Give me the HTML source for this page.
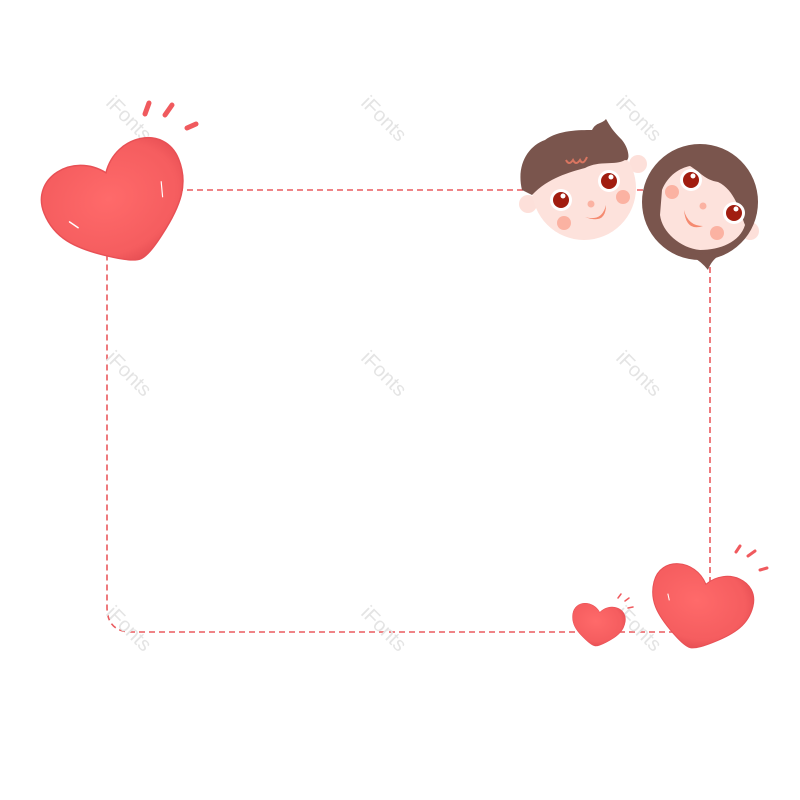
<!DOCTYPE html>
<html><head><style>html,body{margin:0;padding:0;background:#fff;width:800px;height:800px;overflow:hidden}</style></head>
<body>
<svg width="800" height="800" viewBox="0 0 800 800" xmlns="http://www.w3.org/2000/svg">
<defs>
<radialGradient id="hg" cx="0.45" cy="0.4" r="0.65">
<stop offset="0" stop-color="#ff6a6a"/><stop offset="0.75" stop-color="#f55d5f"/><stop offset="1" stop-color="#e24a50"/>
</radialGradient>
<path id="heart" d="M0,40 Q-6,40 -20,30 C-40,16 -50,4 -50,-14 C-50,-40 -16,-46 0,-24 C16,-46 50,-40 50,-14 C50,4 40,16 20,30 Q6,40 0,40 Z"/>
</defs>
<path d="M107,190 H710 V632 H132 Q107,632 107,607 Z" fill="none" stroke="#ea5a5e" stroke-width="1.6" stroke-dasharray="6,4"/>
<g font-family="Liberation Sans, sans-serif" font-size="20" fill="#e4e4e4">
<text transform="translate(105,104) rotate(45)">iFonts</text>
<text transform="translate(360,104) rotate(45)">iFonts</text>
<text transform="translate(615,104) rotate(45)">iFonts</text>
<text transform="translate(105,359) rotate(45)">iFonts</text>
<text transform="translate(360,359) rotate(45)">iFonts</text>
<text transform="translate(615,359) rotate(45)">iFonts</text>
<text transform="translate(105,614) rotate(45)">iFonts</text>
<text transform="translate(360,614) rotate(45)">iFonts</text>
<text transform="translate(615,614) rotate(45)">iFonts</text>
</g>
<!-- top-left heart -->
<g transform="translate(119,205) rotate(-22) scale(1.45)">
<use href="#heart" fill="url(#hg)" stroke="#e85055" stroke-width="1"/>
<path d="M-36,-2 l4,6" stroke="#fff" stroke-width="1" stroke-linecap="round"/>
<path d="M33,-4 l-3,10" stroke="#fff" stroke-width="0.8" stroke-linecap="round"/>
</g>
<g stroke="#f05a5e" stroke-width="5" stroke-linecap="round">
<line x1="149" y1="103" x2="145" y2="114"/>
<line x1="172" y1="105" x2="165" y2="115"/>
<line x1="196" y1="124" x2="187" y2="128"/>
</g>
<!-- bottom right hearts -->
<g transform="translate(700,608) rotate(14) scale(1.02)">
<use href="#heart" fill="url(#hg)" stroke="#e85055" stroke-width="1"/>
<path d="M-34,-6 l3,6" stroke="#fff" stroke-width="1"/>
</g>
<g transform="translate(598,625) rotate(8) scale(0.53)">
<use href="#heart" fill="url(#hg)" stroke="#e85055" stroke-width="1"/>
</g>
<g stroke="#f05a5e" stroke-width="3" stroke-linecap="round">
<line x1="736" y1="552" x2="740" y2="546"/><line x1="748" y1="556" x2="755" y2="551"/><line x1="760" y1="570" x2="767" y2="568"/>
</g>
<g stroke="#f05a5e" stroke-width="1.5" stroke-linecap="round">
<line x1="618" y1="598" x2="621" y2="594"/><line x1="625" y1="601" x2="629" y2="598"/><line x1="628" y1="608" x2="633" y2="607"/>
</g>
<!-- boy -->
<g>
<circle cx="638" cy="164" r="9" fill="#fde0da"/>
<circle cx="528" cy="204" r="9" fill="#fde0da"/>
<circle cx="584" cy="188" r="52" fill="#fde2dc"/>
<path d="M522,190 C516,165 528,146 545,140 C558,130 580,130 592,130 C596,122 602,124 606,119 C610,126 612,130 622,140 C630,150 630,162 625,160 C615,166 600,160 585,168 C570,172 548,178 532,195 Z" fill="#7a554d"/>
<path d="M566,160 q3,6 7,0 q3,6 7,0 q3,6 7,-3" fill="none" stroke="#d97560" stroke-width="2"/>
<circle cx="561" cy="200" r="11" fill="#fff"/><circle cx="561" cy="200" r="8" fill="#a11d10"/><circle cx="563" cy="196" r="2.5" fill="#fff"/>
<circle cx="609" cy="181" r="11" fill="#fff"/><circle cx="609" cy="181" r="8" fill="#a11d10"/><circle cx="611" cy="177" r="2.5" fill="#fff"/>
<circle cx="564" cy="223" r="7" fill="#fbb2a2"/><circle cx="623" cy="197" r="7" fill="#fbb2a2"/>
<circle cx="591" cy="204" r="3.5" fill="#fbb2a2"/>
<path d="M585,217 Q602,222 606,205 Q606,225 585,217 Z" fill="#f58a70"/>
</g>
<!-- girl -->
<g>
<circle cx="750" cy="231" r="9" fill="#fde0da"/>
<circle cx="700" cy="202" r="58" fill="#7a554d"/>
<path d="M662,190 C668,175 680,168 690,166 C700,172 705,180 718,182 C735,190 740,212 745,225 C740,242 720,250 700,250 C680,248 662,232 660,215 Z" fill="#fde2dc"/>
<path d="M690,255 Q702,262 708,270 Q712,258 725,252 Z" fill="#7a554d"/>
<circle cx="691" cy="180" r="11" fill="#fff"/><circle cx="691" cy="180" r="8" fill="#a11d10"/><circle cx="693" cy="176" r="2.5" fill="#fff"/>
<circle cx="734" cy="213" r="11" fill="#fff"/><circle cx="734" cy="213" r="8" fill="#a11d10"/><circle cx="736" cy="209" r="2.5" fill="#fff"/>
<circle cx="672" cy="192" r="7" fill="#fbb2a2"/><circle cx="717" cy="233" r="7" fill="#fbb2a2"/>
<circle cx="703" cy="206" r="3.5" fill="#fbb2a2"/>
<path d="M684,210 Q686,232 703,226 Q688,226 684,210 Z" fill="#f58a70"/>
</g>
</svg>
</body></html>
